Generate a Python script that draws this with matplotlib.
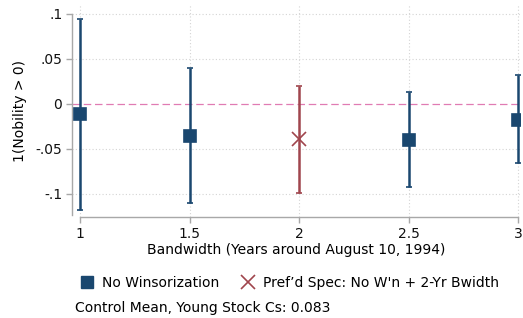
import matplotlib.pyplot as plt
from matplotlib.lines import Line2D

# bandwidth specs
bw = [1.0, 1.5, 2.5, 3.0]
est = [-0.011, -0.0355, -0.040, -0.018]
ci_lo = [-0.118, -0.110, -0.092, -0.066]
ci_hi = [0.094, 0.0395, 0.0137, 0.032]

# preferred spec
pref_bw = [2.0]
pref_est = [-0.039]
pref_lo = [-0.0985]
pref_hi = [0.020]

xticks = [1, 1.5, 2, 2.5, 3]
xticklabels = ["1", "1.5", "2", "2.5", "3"]
yticks = [0.1, 0.05, 0, -0.05, -0.1]
yticklabels = [".1", ".05", "0", "-.05", "-.1"]

navy = "#1a476f"
maroon = "#a0454d"
gray = "#a8a8a8"
fs = 10

fig = plt.figure(figsize=(5.23, 3.18), dpi=100)
ax = fig.add_axes([72 / 523, 1 - 217 / 318, 448 / 523, 212 / 318])

# gridlines
for y in yticks:
    if y != 0:
        ax.axhline(y, color="#d4d4d4", lw=0.8, ls=(0, (1, 2)), zorder=0)
for x in xticks:
    ax.axvline(x, color="#d4d4d4", lw=0.8, ls=(0, (1, 2)), zorder=0)
ax.axhline(0, color="#e07bb3", lw=0.9, ls=(0, (6, 3)), zorder=1)

def draw(xs, ys, lo, hi, color, marker, ms, mfc):
    yerr = [[y - l for y, l in zip(ys, lo)], [h - y for y, h in zip(ys, hi)]]
    ax.errorbar(xs, ys, yerr=yerr, fmt="none", ecolor=color, elinewidth=1.8,
                capsize=2.5, capthick=1.2, zorder=3)
    ax.plot(xs, ys, ls="none", marker=marker, ms=ms, color=color,
            markerfacecolor=mfc, markeredgewidth=1.2, zorder=4)

draw(bw, est, ci_lo, ci_hi, navy, "s", 8.5, navy)
draw(pref_bw, pref_est, pref_lo, pref_hi, maroon, "x", 10, maroon)

ax.set_xlim(1 - 8 / 219, 3 + 2 / 219)
ax.set_ylim(-0.1256, 0.11)

for s in ["top", "right"]:
    ax.spines[s].set_visible(False)
ax.spines["left"].set_bounds(-0.123, 0.1)
ax.spines["bottom"].set_bounds(1, 3)
for s in ["left", "bottom"]:
    ax.spines[s].set_color(gray)
    ax.spines[s].set_linewidth(1.0)

ax.set_xticks(xticks)
ax.set_xticklabels(xticklabels)
ax.set_yticks(yticks)
ax.set_yticklabels(yticklabels)
ax.tick_params(axis="both", colors=gray, labelcolor="#111111", labelsize=fs, length=4, width=1.0)
ax.tick_params(axis="y", pad=3)

ax.set_xlabel("Bandwidth (Years around August 10, 1994)", fontsize=fs, labelpad=1)
ax.set_ylabel("1(Nobility > 0)", fontsize=fs, labelpad=6)

handles = [
    Line2D([], [], ls="none", marker="s", ms=8.5, color=navy),
    Line2D([], [], ls="none", marker="x", ms=10, color=maroon, markeredgewidth=1.2),
]
fig.legend(handles, ["No Winsorization", "Pref\u2019d Spec: No W'n + 2-Yr Bwidth"],
           ncol=2, frameon=False, fontsize=fs, loc="center left",
           bbox_to_anchor=(80 / 523, 1 - 283 / 318), handletextpad=0.55,
           columnspacing=1.6, handlelength=1.0, borderaxespad=0, borderpad=0)

fig.text(75 / 523, 1 - 308 / 318, "Control Mean, Young Stock Cs: 0.083",
         fontsize=fs, va="center", ha="left")

fig.savefig("out.png", dpi=100)
